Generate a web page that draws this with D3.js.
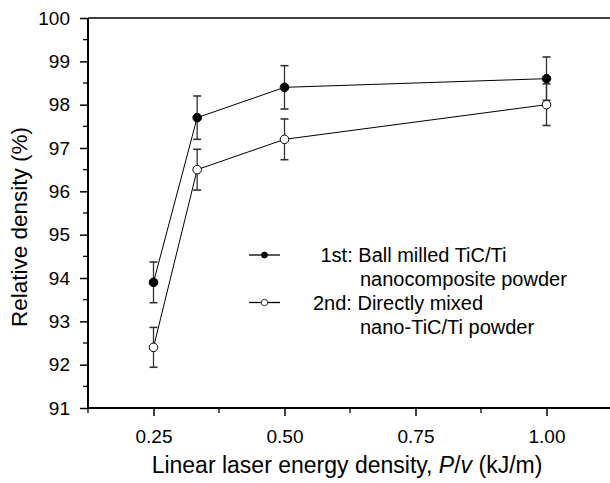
<!DOCTYPE html>
<html>
<head>
<meta charset="utf-8">
<script src="https://cdn.jsdelivr.net/npm/d3@7"></script>
<style>
  body { margin: 0; background: #fff; }
  text { font-family: "Liberation Sans", Arial, sans-serif; fill: #000; }
</style>
</head>
<body>
<div id="chart"></div>
<script>
const energy = [0.25, 1 / 3, 0.5, 1.0]
const ballMilled = [93.9, 97.7, 98.4, 98.6]
const ballMilledErr = [0.47, 0.5, 0.5, 0.5]
const directMixed = [92.4, 96.5, 97.2, 98.0]
const directMixedErr = [0.46, 0.47, 0.47, 0.48]
const xTicks = [0.25, 0.5, 0.75, 1.0]
const xMinor = [0.125, 0.375, 0.625, 0.875, 1.125]
const yTicks = [91, 92, 93, 94, 95, 96, 97, 98, 99, 100]
const yMinor = [91.5, 92.5, 93.5, 94.5, 95.5, 96.5, 97.5, 98.5, 99.5]
const legendLabels = [
  ["1st: Ball milled TiC/Ti", "nanocomposite powder"],
  ["2nd: Directly mixed", "nano-TiC/Ti powder"]
]

const W = 610, H = 483
const svg = d3.select("#chart").append("svg")
  .attr("width", W)
  .attr("height", H)

const x = d3.scaleLinear().domain([0.125, 1.125]).range([88, 612])
const y = d3.scaleLinear().domain([91, 100]).range([408, 18])

// top frame line
svg.append("line")
  .attr("x1", x(0.125)).attr("x2", W)
  .attr("y1", y(100)).attr("y2", y(100))
  .attr("stroke", "#000").attr("stroke-width", 1.3)

// y axis
const yAxis = svg.append("g")
  .attr("transform", "translate(" + x(0.125) + ",0)")
yAxis.call(d3.axisLeft(y).tickValues(yTicks).tickSize(8).tickPadding(10).tickFormat(d3.format("d")))
yAxis.append("g").selectAll("line").data(yMinor).join("line")
  .attr("x1", -5).attr("x2", 0)
  .attr("y1", d => y(d)).attr("y2", d => y(d))
  .attr("stroke", "#000").attr("stroke-width", 1.3)

// x axis
const xAxis = svg.append("g")
  .attr("transform", "translate(0," + y(91) + ")")
xAxis.call(d3.axisBottom(x).tickValues(xTicks).tickSize(8).tickPadding(14).tickFormat(d3.format(".2f")))
xAxis.append("g").selectAll("line").data(xMinor).join("line")
  .attr("x1", d => x(d)).attr("x2", d => x(d))
  .attr("y1", 0).attr("y2", 5)
  .attr("stroke", "#000").attr("stroke-width", 1.3)

svg.selectAll(".domain").attr("stroke-width", 2)
yAxis.select(".domain").attr("d", "M0," + y(100) + "V" + y(91))
xAxis.select(".domain").attr("d", "M" + x(0.125) + ",0H" + W)
svg.selectAll(".tick line").attr("stroke-width", 1.5)
svg.selectAll(".tick text").style("font-size", "19px")

// axis titles
svg.append("text")
  .attr("x", 347).attr("y", 473)
  .attr("text-anchor", "middle")
  .style("font-size", "23px")
  .html('Linear laser energy density, <tspan font-style="italic">P</tspan>/<tspan font-style="italic">v</tspan> (kJ/m)')

svg.append("text")
  .attr("transform", "translate(27,227) rotate(-90)")
  .attr("text-anchor", "middle")
  .style("font-size", "22.5px")
  .text("Relative density (%)")

// series
const series = [
  { vals: ballMilled, err: ballMilledErr, fill: "#000" },
  { vals: directMixed, err: directMixedErr, fill: "#fff" }
]

const line = d3.line()
  .x((d, i) => x(energy[i]))
  .y(d => y(d))

series.forEach(s => {
  const g = svg.append("g")
  g.selectAll(".eb").data(s.vals).join("line")
    .attr("x1", (d, i) => x(energy[i])).attr("x2", (d, i) => x(energy[i]))
    .attr("y1", (d, i) => y(d - s.err[i])).attr("y2", (d, i) => y(d + s.err[i]))
    .attr("stroke", "#333").attr("stroke-width", 1.3)
  ;[-1, 1].forEach(sign => {
    g.selectAll(null).data(s.vals).join("line")
      .attr("x1", (d, i) => x(energy[i]) - 4).attr("x2", (d, i) => x(energy[i]) + 4)
      .attr("y1", (d, i) => y(d + sign * s.err[i])).attr("y2", (d, i) => y(d + sign * s.err[i]))
      .attr("stroke", "#333").attr("stroke-width", 1.6)
  })
  g.append("path")
    .attr("d", line(s.vals))
    .attr("fill", "none").attr("stroke", "#000").attr("stroke-width", 1)
  g.selectAll("circle").data(s.vals).join("circle")
    .attr("cx", (d, i) => x(energy[i])).attr("cy", d => y(d))
    .attr("r", 4.3)
    .attr("fill", s.fill).attr("stroke", "#000").attr("stroke-width", 1)
})

// legend
const legend = svg.append("g")
const legendY = [255, 302.5]
const legendTextX = [320.5, 313]
legendLabels.forEach((lbl, k) => {
  legend.append("line")
    .attr("x1", 249).attr("x2", 280)
    .attr("y1", legendY[k]).attr("y2", legendY[k])
    .attr("stroke", "#000").attr("stroke-width", 1.3)
  legend.append("circle")
    .attr("cx", 264.5).attr("cy", legendY[k]).attr("r", k === 0 ? 3 : 3.2)
    .attr("fill", series[k].fill).attr("stroke", "#000").attr("stroke-width", 0.8)
  legend.append("text")
    .attr("x", legendTextX[k]).attr("y", legendY[k] + 7)
    .style("font-size", "20px")
    .text(lbl[0])
  legend.append("text")
    .attr("x", 360).attr("y", legendY[k] + 31)
    .style("font-size", "20px")
    .text(lbl[1])
})
</script>
</body>
</html>
